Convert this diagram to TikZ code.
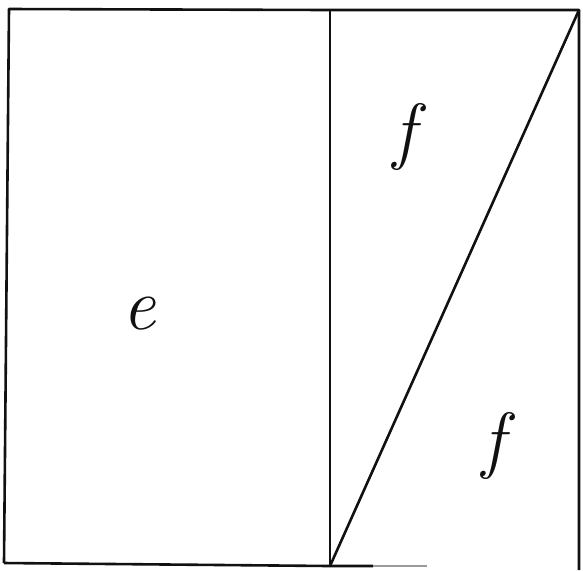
\documentclass[tikz,border=0pt]{standalone}
\usepackage{fontspec}
\usetikzlibrary{calc}
\definecolor{inkblk}{HTML}{111111}
\definecolor{inkgray}{HTML}{9A9A9A}

\begin{document}
\begin{tikzpicture}[
  x=0.5pt, y=-0.5pt,
  edge/.style={inkblk, line width=1.3pt, line join=round},
  letter/.style={text=inkblk, font=\fontsize{37}{37}\selectfont\itshape},
]

% Frame of the page
\useasboundingbox (0,0) rectangle (583,570);

% Corner points
\coordinate (tl) at (9,9);
\coordinate (tm) at (330,10);
\coordinate (tr) at (579,10);
\coordinate (bl) at (4,563);
\coordinate (bm) at (330,566);
\coordinate (br) at (579,570);

% ========================================
% Outer square
% ========================================
\draw[edge] (bl) -- (tl) -- (tm) -- (tr) -- (br);
\draw[edge] (bl) -- (bm) -- (373,566);
\draw[inkgray, line width=1pt] (373,566) -- (427,566);

% ========================================
% Divider and diagonal
% ========================================
\draw[edge] (tm) -- (bm);
\draw[edge] (bm) -- (tr);

% ========================================
% Labels
% ========================================
\node[letter] (lbl-e)  at (139,314) {e};
\node[letter] (lbl-f1) at (405,137) {f};
\node[letter] (lbl-f2) at (494,446) {f};

\end{tikzpicture}
\end{document}
